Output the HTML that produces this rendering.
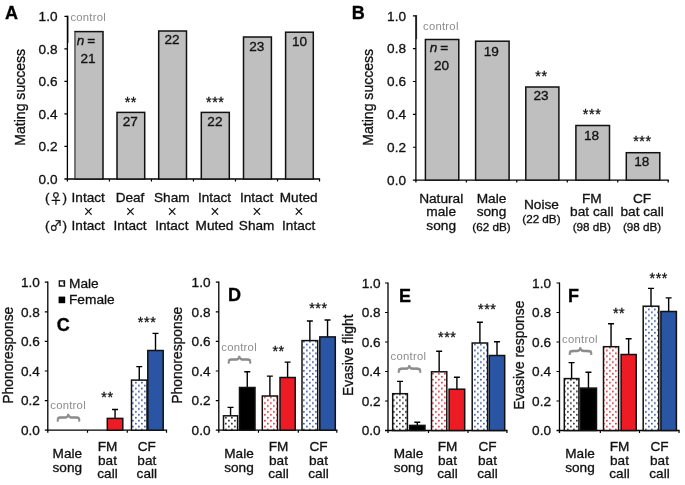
<!DOCTYPE html>
<html lang="en">
<head>
<meta charset="utf-8">
<title>Figure</title>
<style>
html,body{margin:0;padding:0;background:#fff;}
body{width:685px;height:485px;overflow:hidden;}
svg{display:block;}
</style>
</head>
<body>
<svg width="685" height="485" viewBox="0 0 685 485">
<defs>
<pattern id="pk" width="6" height="5.86" patternUnits="userSpaceOnUse"><rect width="6" height="5.86" fill="#fff"/><circle cx="0.9" cy="4.64" r="0.88" fill="#1a1a1a"/><circle cx="3.9" cy="1.71" r="0.88" fill="#1a1a1a"/></pattern>
<pattern id="pr" width="6" height="5.86" patternUnits="userSpaceOnUse"><rect width="6" height="5.86" fill="#fff"/><circle cx="0.9" cy="4.64" r="0.88" fill="#d8262e"/><circle cx="3.9" cy="1.71" r="0.88" fill="#d8262e"/></pattern>
<pattern id="pb" width="6" height="5.86" patternUnits="userSpaceOnUse"><rect width="6" height="5.86" fill="#fff"/><circle cx="0.9" cy="4.64" r="0.88" fill="#2c4c9e"/><circle cx="3.9" cy="1.71" r="0.88" fill="#2c4c9e"/></pattern>
</defs>
<rect width="685" height="485" fill="#fff"/>
<g font-family='"Liberation Sans", "DejaVu Sans", sans-serif' font-size="13.6" fill="#111" stroke="#111" stroke-width="0.32">
<text x="5" y="19.2" font-size="18" font-weight="bold" fill="#000" stroke="#000">A</text>
<path d="M67.4 15.700000000000001V181.5M64.4 179.0H320.12" fill="none" stroke="#000" stroke-width="1.3"/>
<text x="57.5" y="183.7" text-anchor="end">0.0</text>
<text x="57.5" y="151.16" text-anchor="end">0.2</text>
<text x="57.5" y="118.62" text-anchor="end">0.4</text>
<text x="57.5" y="86.08" text-anchor="end">0.6</text>
<text x="57.5" y="53.54" text-anchor="end">0.8</text>
<text x="57.5" y="21.0" text-anchor="end">1.0</text>
<path d="M64.4 146.46H67.4M64.4 113.92H67.4M64.4 81.38H67.4M64.4 48.84H67.4M64.4 16.30H67.4M109.42 179.0V181.5M151.44 179.0V181.5M193.46 179.0V181.5M235.48 179.0V181.5M277.5 179.0V181.5M319.52 179.0V181.5" fill="none" stroke="#000" stroke-width="1.2"/>
<text transform="translate(25.2 97.3) rotate(-90)" text-anchor="middle" font-size="14.05">Mating success</text>
<text x="70.4" y="20.7" font-size="11.3" fill="#8c8c8c" letter-spacing="0.25" stroke="none">control</text>
<rect x="75.0" y="31.6" width="28.0" height="147.4" fill="#bfbfbf" stroke="#111" stroke-width="1.5"/>
<rect x="117.0" y="112.4" width="27.7" height="66.6" fill="#bfbfbf" stroke="#111" stroke-width="1.5"/>
<rect x="158.7" y="31.0" width="27.8" height="148.0" fill="#bfbfbf" stroke="#111" stroke-width="1.5"/>
<rect x="201.3" y="112.4" width="28.0" height="66.6" fill="#bfbfbf" stroke="#111" stroke-width="1.5"/>
<rect x="243.5" y="37.0" width="27.9" height="142.0" fill="#bfbfbf" stroke="#111" stroke-width="1.5"/>
<rect x="285.6" y="32.2" width="27.7" height="146.8" fill="#bfbfbf" stroke="#111" stroke-width="1.5"/>
<path d="M75 32.3V178.3" stroke="#808080" stroke-width="1.6" fill="none"/>
<path d="M68 15.7V43" stroke="#000" stroke-width="0.8" fill="none"/>
<text x="85.9" y="45.3" text-anchor="middle" word-spacing="-0.8"><tspan font-style="italic">n</tspan> =</text>
<text x="88.0" y="62.9" text-anchor="middle">21</text>
<text x="130.25" y="126.3" text-anchor="middle">27</text>
<text x="172.0" y="44.2" text-anchor="middle">22</text>
<text x="214.9" y="126.3" text-anchor="middle">22</text>
<text x="256.84999999999997" y="50.6" text-anchor="middle">23</text>
<text x="299.45000000000005" y="46.0" text-anchor="middle">10</text>
<text x="130.85" y="106.9" text-anchor="middle" font-size="14.3" letter-spacing="0.6" stroke-width="0.3">**</text>
<text x="215.3" y="106.5" text-anchor="middle" font-size="14.3" letter-spacing="0.6" stroke-width="0.3">***</text>
<text x="88.2" y="201.9" text-anchor="middle">Intact</text>
<text x="88.5" y="217" text-anchor="middle" font-size="16" stroke="none">×</text>
<text x="88.2" y="229.8" text-anchor="middle">Intact</text>
<text x="130.0" y="201.9" text-anchor="middle">Deaf</text>
<text x="130.3" y="217" text-anchor="middle" font-size="16" stroke="none">×</text>
<text x="130.0" y="229.8" text-anchor="middle">Intact</text>
<text x="171.8" y="201.9" text-anchor="middle">Sham</text>
<text x="172.1" y="217" text-anchor="middle" font-size="16" stroke="none">×</text>
<text x="171.8" y="229.8" text-anchor="middle">Intact</text>
<text x="214.5" y="201.9" text-anchor="middle">Intact</text>
<text x="214.8" y="217" text-anchor="middle" font-size="16" stroke="none">×</text>
<text x="214.5" y="229.8" text-anchor="middle">Muted</text>
<text x="256.6" y="201.9" text-anchor="middle">Intact</text>
<text x="256.9" y="217" text-anchor="middle" font-size="16" stroke="none">×</text>
<text x="256.6" y="229.8" text-anchor="middle">Sham</text>
<text x="298.7" y="201.9" text-anchor="middle">Muted</text>
<text x="299.0" y="217" text-anchor="middle" font-size="16" stroke="none">×</text>
<text x="298.7" y="229.8" text-anchor="middle">Intact</text>
<text x="56" y="201.9" text-anchor="middle">(<tspan font-family="Noto Sans CJK SC, DejaVu Sans, sans-serif" font-size="12.8" dy="0.6">♀</tspan><tspan dy="-0.6">)</tspan></text>
<text x="56" y="229.8" text-anchor="middle">(<tspan font-family="Noto Sans CJK SC, DejaVu Sans, sans-serif" font-size="12.8" dy="0.6">♂</tspan><tspan dy="-0.6">)</tspan></text>
<text x="351.8" y="19.0" font-size="18" font-weight="bold" fill="#000" stroke="#000">B</text>
<path d="M415.9 15.200000000000001V182.6M412.9 180.1H668.8000000000001" fill="none" stroke="#000" stroke-width="1.3"/>
<text x="406" y="184.8" text-anchor="end">0.0</text>
<text x="406" y="151.94" text-anchor="end">0.2</text>
<text x="406" y="119.08" text-anchor="end">0.4</text>
<text x="406" y="86.22" text-anchor="end">0.6</text>
<text x="406" y="53.36" text-anchor="end">0.8</text>
<text x="406" y="20.5" text-anchor="end">1.0</text>
<path d="M412.9 147.24H415.9M412.9 114.38H415.9M412.9 81.52H415.9M412.9 48.66H415.9M412.9 15.80H415.9M466.36 180.1V182.6M516.82 180.1V182.6M567.28 180.1V182.6M617.74 180.1V182.6M668.2 180.1V182.6" fill="none" stroke="#000" stroke-width="1.2"/>
<text transform="translate(373 97.3) rotate(-90)" text-anchor="middle" font-size="14.05">Mating success</text>
<text x="423" y="30.2" font-size="11.3" fill="#8c8c8c" letter-spacing="0.25" stroke="none">control</text>
<rect x="425.4" y="39.5" width="33.4" height="140.6" fill="#bfbfbf" stroke="#111" stroke-width="1.5"/>
<rect x="475.6" y="41.2" width="33.5" height="138.9" fill="#bfbfbf" stroke="#111" stroke-width="1.5"/>
<rect x="525.8" y="87" width="33.1" height="93.1" fill="#bfbfbf" stroke="#111" stroke-width="1.5"/>
<rect x="575.9" y="125.5" width="33.6" height="54.6" fill="#bfbfbf" stroke="#111" stroke-width="1.5"/>
<rect x="626.3" y="152.7" width="33.5" height="27.4" fill="#bfbfbf" stroke="#111" stroke-width="1.5"/>
<path d="M416.6 15.2V39.2" stroke="#000" stroke-width="0.8" fill="none"/>
<text x="439.0" y="51.5" text-anchor="middle" word-spacing="-0.8"><tspan font-style="italic">n</tspan> =</text>
<text x="441.5" y="69.5" text-anchor="middle">20</text>
<text x="491.2" y="55.6" text-anchor="middle">19</text>
<text x="541.0999999999999" y="100.4" text-anchor="middle">23</text>
<text x="591.5" y="140.1" text-anchor="middle">18</text>
<text x="641.8" y="166.3" text-anchor="middle">18</text>
<text x="541.5" y="81.1" text-anchor="middle" font-size="14.3" letter-spacing="0.6" stroke-width="0.3">**</text>
<text x="592.1" y="118.8" text-anchor="middle" font-size="14.3" letter-spacing="0.6" stroke-width="0.3">***</text>
<text x="642.4" y="145.8" text-anchor="middle" font-size="14.3" letter-spacing="0.6" stroke-width="0.3">***</text>
<text x="441.2" y="202.5" text-anchor="middle" font-size="13.7">Natural</text>
<text x="441.2" y="216.3" text-anchor="middle" font-size="13.7">male</text>
<text x="441.2" y="230.1" text-anchor="middle" font-size="13.7">song</text>
<text x="491.5" y="202.5" text-anchor="middle" font-size="13.7">Male</text>
<text x="491.5" y="216.3" text-anchor="middle" font-size="13.7">song</text>
<text x="491.5" y="230.6" text-anchor="middle" font-size="11.7">(62 dB)</text>
<text x="541.4" y="209.3" text-anchor="middle" font-size="13.7">Noise</text>
<text x="541.4" y="223.1" text-anchor="middle" font-size="11.7">(22 dB)</text>
<text x="591.8" y="202.5" text-anchor="middle" font-size="13.7">FM</text>
<text x="591.8" y="216.3" text-anchor="middle" font-size="13.7">bat call</text>
<text x="591.8" y="230.6" text-anchor="middle" font-size="11.7">(98 dB)</text>
<text x="642.1" y="202.5" text-anchor="middle" font-size="13.7">CF</text>
<text x="642.1" y="216.3" text-anchor="middle" font-size="13.7">bat call</text>
<text x="642.1" y="230.6" text-anchor="middle" font-size="11.7">(98 dB)</text>
<path d="M47.8 281.59999999999997V432.7M44.8 430.2H167.1" fill="none" stroke="#000" stroke-width="1.3"/>
<text x="39.9" y="434.9" text-anchor="end">0.0</text>
<text x="39.9" y="405.3" text-anchor="end">0.2</text>
<text x="39.9" y="375.7" text-anchor="end">0.4</text>
<text x="39.9" y="346.1" text-anchor="end">0.6</text>
<text x="39.9" y="316.5" text-anchor="end">0.8</text>
<text x="39.9" y="286.9" text-anchor="end">1.0</text>
<path d="M44.8 400.60H47.8M44.8 371.00H47.8M44.8 341.40H47.8M44.8 311.80H47.8M44.8 282.20H47.8M87.5 430.2V432.7M127.3 430.2V432.7M166.5 430.2V432.7" fill="none" stroke="#000" stroke-width="1.2"/>
<text transform="translate(12.5 355.2) rotate(-90)" text-anchor="middle" font-size="13.85">Phonoresponse</text>
<text x="56.8" y="331.2" font-size="18" font-weight="bold" fill="#000" stroke="#000">C</text>
<path d="M115.05 418.4V409.5M112.05 409.5H118.05" fill="none" stroke="#000" stroke-width="1.4"/>
<rect x="107.3" y="418.4" width="15.5" height="11.8" fill="#ed1c24" stroke="#111" stroke-width="1.5"/>
<path d="M139.25 380.1V366.6M136.25 366.6H142.25" fill="none" stroke="#000" stroke-width="1.4"/>
<rect x="131.5" y="380.1" width="15.5" height="50.1" fill="url(#pb)" stroke="#111" stroke-width="1.5"/>
<path d="M155.5 350.5V333.4M152.5 333.4H158.5" fill="none" stroke="#000" stroke-width="1.4"/>
<rect x="147.8" y="350.5" width="15.4" height="79.7" fill="#2a55a5" stroke="#111" stroke-width="1.5"/>
<text x="67.3" y="458.3" text-anchor="middle">Male</text>
<text x="67.3" y="472.2" text-anchor="middle">song</text>
<text x="107.5" y="450.9" text-anchor="middle">FM</text>
<text x="107.5" y="464.7" text-anchor="middle">bat</text>
<text x="107.5" y="478.4" text-anchor="middle">call</text>
<text x="146.8" y="450.9" text-anchor="middle">CF</text>
<text x="146.8" y="464.7" text-anchor="middle">bat</text>
<text x="146.8" y="478.4" text-anchor="middle">call</text>
<rect x="59.3" y="280.9" width="5.2" height="5.2" fill="url(#pk)" stroke="#111" stroke-width="1.3"/>
<rect x="58.6" y="296.6" width="6.6" height="6.6" fill="#000" stroke="none"/>
<text x="69" y="287.8" font-size="13.7">Male</text>
<text x="69" y="304.4" font-size="13.7">Female</text>
<text x="68.1" y="408.6" text-anchor="middle" font-size="11.3" fill="#8c8c8c" letter-spacing="0.25" stroke="none">control</text>
<text transform="translate(61.7 417.5) rotate(90)" text-anchor="middle" font-size="24.2" fill="#8c8c8c" stroke="#8c8c8c" stroke-width="0.5">{</text>
<text x="107.4" y="402.1" text-anchor="middle" font-size="14.3" letter-spacing="0.6" stroke-width="0.3">**</text>
<text x="147.1" y="326.5" text-anchor="middle" font-size="14.3" letter-spacing="0.6" stroke-width="0.3">***</text>
<path d="M218.8 281.59999999999997V432.7M215.8 430.2H337.40000000000003" fill="none" stroke="#000" stroke-width="1.3"/>
<text x="210.5" y="434.9" text-anchor="end">0.0</text>
<text x="210.5" y="405.3" text-anchor="end">0.2</text>
<text x="210.5" y="375.7" text-anchor="end">0.4</text>
<text x="210.5" y="346.1" text-anchor="end">0.6</text>
<text x="210.5" y="316.5" text-anchor="end">0.8</text>
<text x="210.5" y="286.9" text-anchor="end">1.0</text>
<path d="M215.8 400.60H218.8M215.8 371.00H218.8M215.8 341.40H218.8M215.8 311.80H218.8M215.8 282.20H218.8M258.5 430.2V432.7M298.3 430.2V432.7M336.8 430.2V432.7" fill="none" stroke="#000" stroke-width="1.2"/>
<text transform="translate(182.4 355.2) rotate(-90)" text-anchor="middle" font-size="13.85">Phonoresponse</text>
<text x="228" y="300.5" font-size="18" font-weight="bold" fill="#000" stroke="#000">D</text>
<path d="M230.55 415.8V407.4M227.55 407.4H233.55" fill="none" stroke="#000" stroke-width="1.4"/>
<rect x="223.5" y="415.8" width="14.1" height="14.4" fill="url(#pk)" stroke="#111" stroke-width="1.5"/>
<path d="M247.25 387.5V371.8M244.25 371.8H250.25" fill="none" stroke="#000" stroke-width="1.4"/>
<rect x="239.5" y="387.5" width="15.5" height="42.7" fill="#000" stroke="#111" stroke-width="1.5"/>
<path d="M269.9 396V376.1M266.9 376.1H272.9" fill="none" stroke="#000" stroke-width="1.4"/>
<rect x="262.3" y="396" width="15.2" height="34.2" fill="url(#pr)" stroke="#111" stroke-width="1.5"/>
<path d="M287.6 377.5V362.1M284.6 362.1H290.6" fill="none" stroke="#000" stroke-width="1.4"/>
<rect x="280" y="377.5" width="15.2" height="52.7" fill="#ed1c24" stroke="#111" stroke-width="1.5"/>
<path d="M309.85 340.6V321M306.85 321H312.85" fill="none" stroke="#000" stroke-width="1.4"/>
<rect x="302" y="340.6" width="15.7" height="89.6" fill="url(#pb)" stroke="#111" stroke-width="1.5"/>
<path d="M327.55 336.9V320M324.55 320H330.55" fill="none" stroke="#000" stroke-width="1.4"/>
<rect x="319.8" y="336.9" width="15.5" height="93.3" fill="#2a55a5" stroke="#111" stroke-width="1.5"/>
<text x="239" y="458.3" text-anchor="middle">Male</text>
<text x="239" y="472.2" text-anchor="middle">song</text>
<text x="278.5" y="450.9" text-anchor="middle">FM</text>
<text x="278.5" y="464.7" text-anchor="middle">bat</text>
<text x="278.5" y="478.4" text-anchor="middle">call</text>
<text x="318.5" y="450.9" text-anchor="middle">CF</text>
<text x="318.5" y="464.7" text-anchor="middle">bat</text>
<text x="318.5" y="478.4" text-anchor="middle">call</text>
<text x="239.1" y="350.7" text-anchor="middle" font-size="11.3" fill="#8c8c8c" letter-spacing="0.25" stroke="none">control</text>
<text transform="translate(232.6 359.6) rotate(90)" text-anchor="middle" font-size="24.2" fill="#8c8c8c" stroke="#8c8c8c" stroke-width="0.5">{</text>
<text x="278.6" y="356.1" text-anchor="middle" font-size="14.3" letter-spacing="0.6" stroke-width="0.3">**</text>
<text x="318.4" y="312.9" text-anchor="middle" font-size="14.3" letter-spacing="0.6" stroke-width="0.3">***</text>
<path d="M388.0 282.4V433.0M385.0 430.5H507.5" fill="none" stroke="#000" stroke-width="1.3"/>
<text x="380.6" y="435.2" text-anchor="end">0.0</text>
<text x="380.6" y="405.7" text-anchor="end">0.2</text>
<text x="380.6" y="376.2" text-anchor="end">0.4</text>
<text x="380.6" y="346.7" text-anchor="end">0.6</text>
<text x="380.6" y="317.2" text-anchor="end">0.8</text>
<text x="380.6" y="287.7" text-anchor="end">1.0</text>
<path d="M385.0 401.00H388.0M385.0 371.50H388.0M385.0 342.00H388.0M385.0 312.50H388.0M385.0 283.00H388.0M428.5 430.5V433.0M468 430.5V433.0M506.9 430.5V433.0" fill="none" stroke="#000" stroke-width="1.2"/>
<text transform="translate(353.3 355.2) rotate(-90)" text-anchor="middle" font-size="13.85">Evasive flight</text>
<text x="399" y="302" font-size="18" font-weight="bold" fill="#000" stroke="#000">E</text>
<path d="M400.05 393.7V381.4M397.05 381.4H403.05" fill="none" stroke="#000" stroke-width="1.4"/>
<rect x="392.7" y="393.7" width="14.7" height="36.8" fill="url(#pk)" stroke="#111" stroke-width="1.5"/>
<path d="M417.3 425.4V422.3M414.3 422.3H420.3" fill="none" stroke="#000" stroke-width="1.4"/>
<rect x="409.6" y="425.4" width="15.4" height="5.1" fill="#000" stroke="#111" stroke-width="1.5"/>
<path d="M439.15 371.8V351.2M436.15 351.2H442.15" fill="none" stroke="#000" stroke-width="1.4"/>
<rect x="431.5" y="371.8" width="15.3" height="58.7" fill="url(#pr)" stroke="#111" stroke-width="1.5"/>
<path d="M456.9 389.2V377.3M453.9 377.3H459.9" fill="none" stroke="#000" stroke-width="1.4"/>
<rect x="449.1" y="389.2" width="15.6" height="41.3" fill="#ed1c24" stroke="#111" stroke-width="1.5"/>
<path d="M479.9 343V322.3M476.9 322.3H482.9" fill="none" stroke="#000" stroke-width="1.4"/>
<rect x="472.2" y="343" width="15.4" height="87.5" fill="url(#pb)" stroke="#111" stroke-width="1.5"/>
<path d="M497.0 355.5V341.7M494.0 341.7H500.0" fill="none" stroke="#000" stroke-width="1.4"/>
<rect x="489.3" y="355.5" width="15.4" height="75.0" fill="#2a55a5" stroke="#111" stroke-width="1.5"/>
<text x="408.5" y="458.3" text-anchor="middle">Male</text>
<text x="408.5" y="472.2" text-anchor="middle">song</text>
<text x="447.5" y="450.9" text-anchor="middle">FM</text>
<text x="447.5" y="464.7" text-anchor="middle">bat</text>
<text x="447.5" y="478.4" text-anchor="middle">call</text>
<text x="487.5" y="450.9" text-anchor="middle">CF</text>
<text x="487.5" y="464.7" text-anchor="middle">bat</text>
<text x="487.5" y="478.4" text-anchor="middle">call</text>
<text x="408.4" y="360" text-anchor="middle" font-size="11.3" fill="#8c8c8c" letter-spacing="0.25" stroke="none">control</text>
<text transform="translate(402.6 368.7) rotate(90)" text-anchor="middle" font-size="24.2" fill="#8c8c8c" stroke="#8c8c8c" stroke-width="0.5">{</text>
<text x="447.3" y="341.8" text-anchor="middle" font-size="14.3" letter-spacing="0.6" stroke-width="0.3">***</text>
<text x="487.3" y="314.1" text-anchor="middle" font-size="14.3" letter-spacing="0.6" stroke-width="0.3">***</text>
<path d="M559.5 282.4V433.0M556.5 430.5H679.6" fill="none" stroke="#000" stroke-width="1.3"/>
<text x="551" y="435.2" text-anchor="end">0.0</text>
<text x="551" y="405.7" text-anchor="end">0.2</text>
<text x="551" y="376.2" text-anchor="end">0.4</text>
<text x="551" y="346.7" text-anchor="end">0.6</text>
<text x="551" y="317.2" text-anchor="end">0.8</text>
<text x="551" y="287.7" text-anchor="end">1.0</text>
<path d="M556.5 401.00H559.5M556.5 371.50H559.5M556.5 342.00H559.5M556.5 312.50H559.5M556.5 283.00H559.5M600.3 430.5V433.0M639.5 430.5V433.0M679 430.5V433.0" fill="none" stroke="#000" stroke-width="1.2"/>
<text transform="translate(524.2 355.2) rotate(-90)" text-anchor="middle" font-size="13.85">Evasive response</text>
<text x="568" y="302" font-size="18" font-weight="bold" fill="#000" stroke="#000">F</text>
<path d="M571.6 378.6V362.6M568.6 362.6H574.6" fill="none" stroke="#000" stroke-width="1.4"/>
<rect x="564.3" y="378.6" width="14.6" height="51.9" fill="url(#pk)" stroke="#111" stroke-width="1.5"/>
<path d="M588.45 388.1V372.3M585.45 372.3H591.45" fill="none" stroke="#000" stroke-width="1.4"/>
<rect x="580.4" y="388.1" width="16.1" height="42.4" fill="#000" stroke="#111" stroke-width="1.5"/>
<path d="M611.05 346.7V323.8M608.05 323.8H614.05" fill="none" stroke="#000" stroke-width="1.4"/>
<rect x="603.5" y="346.7" width="15.1" height="83.8" fill="url(#pr)" stroke="#111" stroke-width="1.5"/>
<path d="M628.65 354.5V338.7M625.65 338.7H631.65" fill="none" stroke="#000" stroke-width="1.4"/>
<rect x="621.1" y="354.5" width="15.1" height="76.0" fill="#ed1c24" stroke="#111" stroke-width="1.5"/>
<path d="M651.0 306.2V288.4M648.0 288.4H654.0" fill="none" stroke="#000" stroke-width="1.4"/>
<rect x="643.2" y="306.2" width="15.6" height="124.3" fill="url(#pb)" stroke="#111" stroke-width="1.5"/>
<path d="M668.65 311.5V297.9M665.65 297.9H671.65" fill="none" stroke="#000" stroke-width="1.4"/>
<rect x="660.9" y="311.5" width="15.5" height="119.0" fill="#2a55a5" stroke="#111" stroke-width="1.5"/>
<text x="580" y="458.3" text-anchor="middle">Male</text>
<text x="580" y="472.2" text-anchor="middle">song</text>
<text x="619.5" y="450.9" text-anchor="middle">FM</text>
<text x="619.5" y="464.7" text-anchor="middle">bat</text>
<text x="619.5" y="478.4" text-anchor="middle">call</text>
<text x="659.5" y="450.9" text-anchor="middle">CF</text>
<text x="659.5" y="464.7" text-anchor="middle">bat</text>
<text x="659.5" y="478.4" text-anchor="middle">call</text>
<text x="579.9" y="343" text-anchor="middle" font-size="11.3" fill="#8c8c8c" letter-spacing="0.25" stroke="none">control</text>
<text transform="translate(573.8 351.1) rotate(90)" text-anchor="middle" font-size="24.2" fill="#8c8c8c" stroke="#8c8c8c" stroke-width="0.5">{</text>
<text x="619.1" y="318.2" text-anchor="middle" font-size="14.3" letter-spacing="0.6" stroke-width="0.3">**</text>
<text x="658.8" y="282.5" text-anchor="middle" font-size="14.3" letter-spacing="0.6" stroke-width="0.3">***</text>
</g>
</svg>
</body>
</html>
